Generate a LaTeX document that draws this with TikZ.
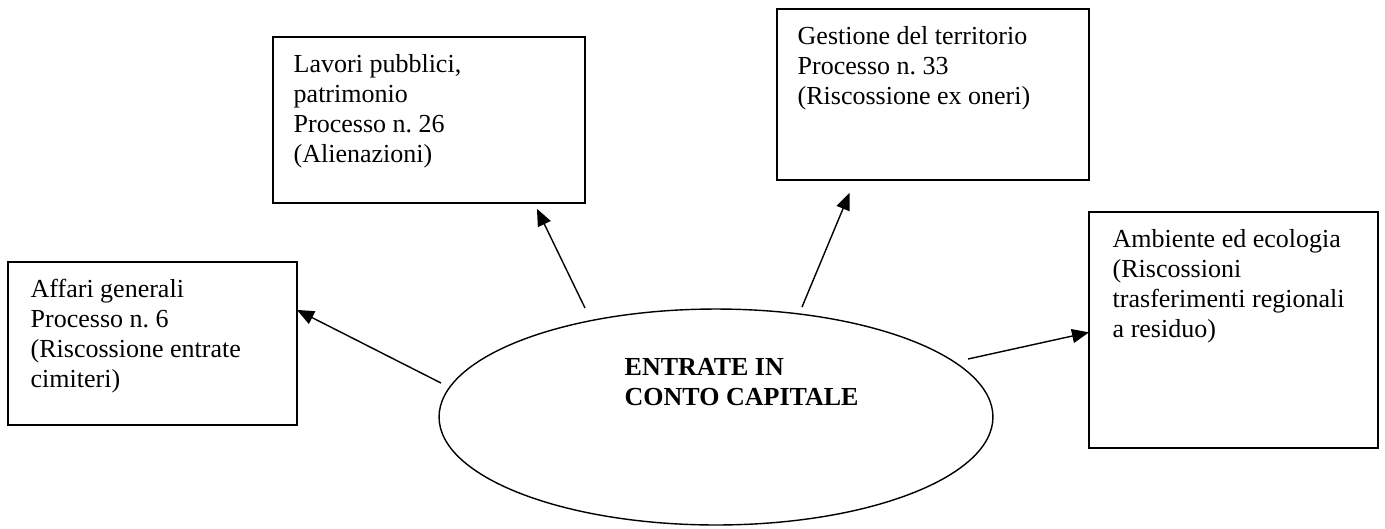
\documentclass[tikz,border=0pt]{standalone}
\usepackage{fontspec}
\setmainfont{Liberation Serif}
\frenchspacing
\usetikzlibrary{arrows.meta}
\usetikzlibrary{shapes.geometric}
\usetikzlibrary{calc}

\begin{document}
\begin{tikzpicture}[x=0.02cm,y=-0.02cm,line width=0.8pt,
		riquadro/.style={draw,rectangle,anchor=north west,inner sep=0pt,outer sep=0pt},
		testo/.style={anchor=base west,align=left,inner sep=0pt,font=\fontsize{14.8}{17.07}\selectfont},
		freccia/.style={-{Triangle[length=3.4mm,width=2.8mm]}}
	]
				\useasboundingbox (0,0) rectangle (1385,528);

				% ellisse centrale (base = ultima riga)
				\node[draw,ellipse,minimum width=11.08cm,minimum height=4.32cm,inner sep=0pt,outer sep=0pt] (e) at (716,417) {};
				\node[testo,font=\fontsize{14.8}{17.07}\selectfont\bfseries] (et) at ($(e.center)+(-92,-12)$) {ENTRATE IN\\CONTO CAPITALE};

				% riquadri
				\node[riquadro,minimum width=5.78cm,minimum height=3.26cm] (b1) at (8,262) {};
				\node[testo] (t1) at ($(b1.north west)+(22,125)$) {Affari generali\\Processo n. 6\\(Riscossione entrate\\cimiteri)};

				\node[riquadro,minimum width=6.24cm,minimum height=3.32cm] (b2) at (273,37) {};
				\node[testo] (t2) at ($(b2.north west)+(20,125)$) {Lavori pubblici,\\patrimonio\\Processo n. 26\\(Alienazioni)};

				\node[riquadro,minimum width=6.24cm,minimum height=3.42cm] (b3) at (777,9) {};
				\node[testo] (t3) at ($(b3.north west)+(20,95)$) {Gestione del territorio\\Processo n. 33\\(Riscossione ex oneri)};

				\node[riquadro,minimum width=5.78cm,minimum height=4.72cm] (b4) at (1089,212) {};
				\node[testo] (t4) at ($(b4.north west)+(23,125)$) {Ambiente ed ecologia\\(Riscossioni\\trasferimenti regionali\\a residuo)};

				% frecce
				\coordinate (s1) at (441,383);
				\coordinate (s2) at (585,308);
				\coordinate (s3) at (802,307);
				\coordinate (s4) at (968,359);

				\draw[freccia] (s1) -- ($(b1.north east)!0.294!(b1.south east)$);
				\draw[freccia,shorten >=0.13cm] (s2) -- ($(b2.south west)!0.837!(b2.south east)$);
				\draw[freccia,shorten >=0.28cm] (s3) -- ($(b3.south west)!0.25!(b3.south east)$);
				\draw[freccia] (s4) -- ($(b4.north west)!0.51!(b4.south west)$);
			\end{tikzpicture}
\end{document}
